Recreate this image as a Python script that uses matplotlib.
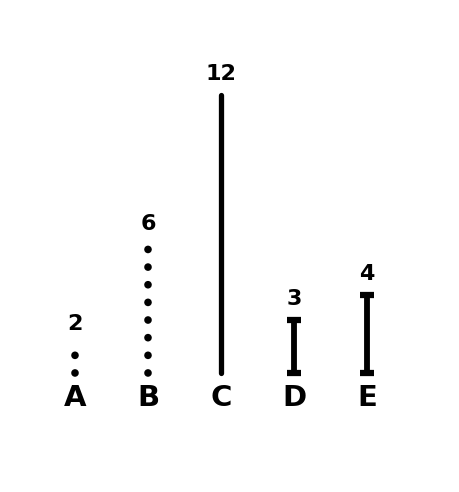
import matplotlib
matplotlib.use("Agg")
import matplotlib.pyplot as plt

categories = ["A", "B", "C", "D", "E"]
values = [2, 6, 12, 3, 4]
styles = ["dotted", "dotted", "solid", "capped", "capped"]

fig = plt.figure(figsize=(4.59, 4.92), dpi=100)
ax = fig.add_axes([0.0839, 0.1463, 0.795, 0.813])
ax.set_xlim(-0.5, 4.5)
ax.set_ylim(-1, 15)
ax.axis("off")

base = 0.9
for i, (cat, v, st) in enumerate(zip(categories, values, styles)):
    if st == "dotted":
        ax.plot([i, i], [base, v], color="black", lw=5.5,
                linestyle=(0, (0.01, 2.3)), solid_capstyle="round",
                dash_capstyle="round")
    elif st == "solid":
        ax.plot([i, i], [base, v], color="black", lw=3.8,
                solid_capstyle="round")
    else:
        ax.plot([i, i], [base, v], color="black", lw=4.2)
        ax.plot([i, i], [base, v], color="black", lw=0, marker="_",
                markersize=10, markeredgewidth=4.5)
    ax.annotate(str(v), (i, v), xytext=(0, 8), textcoords="offset points",
                ha="center", va="bottom", fontsize=16, fontweight="heavy",
                color="black")
    ax.text(i, -0.1, cat, ha="center", va="center", fontsize=21,
            fontweight="heavy", color="black")

fig.savefig("out.png", dpi=100, facecolor="white")
